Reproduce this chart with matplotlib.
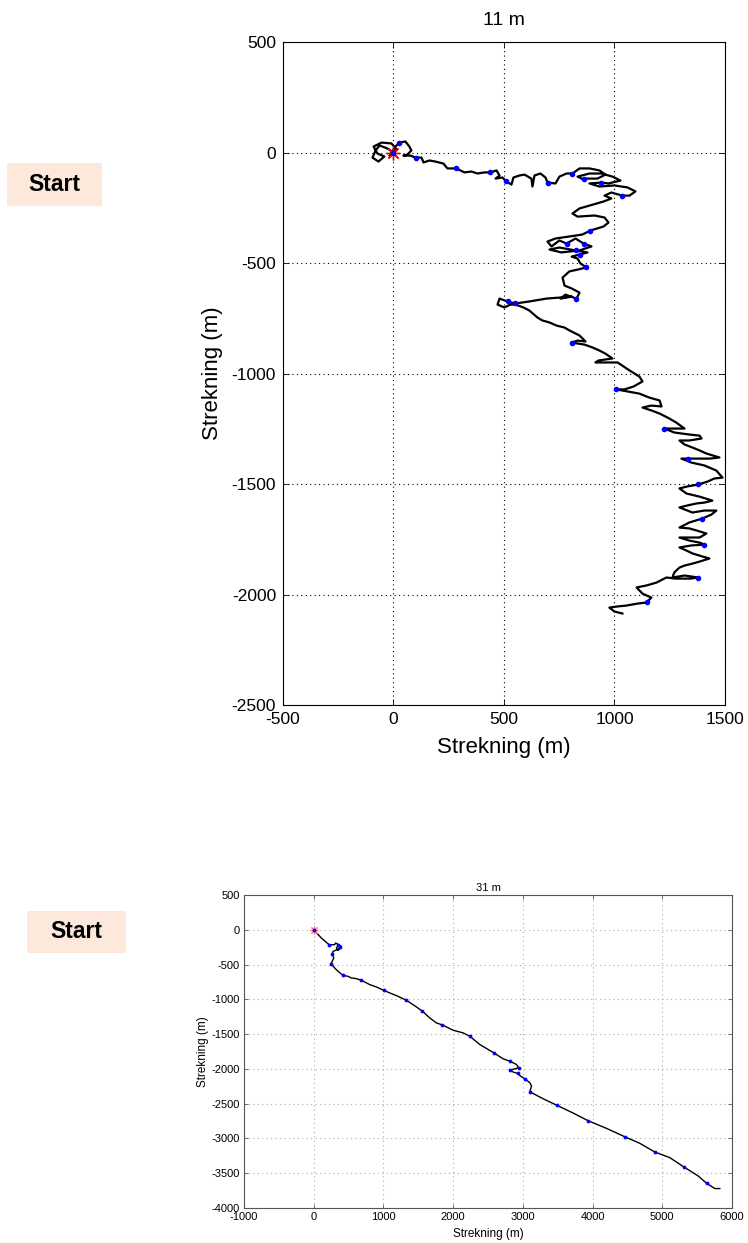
#!/usr/bin/env python3
''' Two walking tracks (11 m and 31 m), MATLAB-style plots with Start tags
'''

import matplotlib
matplotlib.use('Agg')
from matplotlib import pyplot
from matplotlib.patches import Rectangle

#
# data (metres)
#

top_x = [0, -27, -63, -81, -95, -68, -41, -72, -90, -54, -9, 14, -18, 9, 27,
         54, 72, 81, 63, 45, 77, 100, 127, 136, 163, 190, 226, 244, 285, 321,
         353, 380, 412, 439, 466, 480, 462, 493, 511, 534, 543, 570, 593, 624,
         629, 638, 665, 688, 697, 733, 751, 783, 810, 842, 887, 932, 959, 923,
         878, 860, 833, 887, 941, 991, 1027, 973, 941, 887, 932, 1000, 1059,
         1095, 1068, 1036, 986, 955, 986, 950, 887, 842, 810, 833, 910, 955,
         973, 950, 891, 855, 796, 733, 697, 715, 751, 783, 824, 860, 896, 842,
         760, 706, 751, 824, 878, 842, 806, 833, 846, 873, 837, 796, 765, 774,
         806, 842, 828, 778, 756, 806, 692, 615, 552, 516, 480, 471, 502, 529,
         552, 588, 615, 652, 674, 706, 738, 774, 796, 842, 869, 833, 806, 864,
         900, 932, 959, 991, 928, 914, 973, 1014, 1041, 1068, 1113, 1127, 1086,
         1045, 1009, 1059, 1113, 1158, 1204, 1213, 1167, 1127, 1167, 1204,
         1249, 1280, 1317, 1271, 1226, 1271, 1339, 1385, 1394, 1339, 1294,
         1317, 1353, 1385, 1416, 1475, 1430, 1385, 1335, 1303, 1348, 1407,
         1461, 1489, 1452, 1421, 1380, 1330, 1294, 1326, 1385, 1443, 1407,
         1371, 1330, 1294, 1353, 1407, 1461, 1439, 1398, 1339, 1294, 1339,
         1371, 1416, 1385, 1339, 1294, 1339, 1385, 1407, 1348, 1294, 1326,
         1353, 1398, 1430, 1385, 1353, 1317, 1294, 1271, 1262, 1317, 1380,
         1344, 1276, 1235, 1190, 1145, 1100, 1127, 1167, 1145, 1104, 1054,
         1014, 977, 1000, 1036]
top_y = [0, 18, 32, 9, -23, -41, -18, -5, 27, 45, 41, 14, -14, 27, 45,
         50, 27, 9, -9, -14, -14, -23, -23, -45, -36, -41, -50, -72, -72, -90,
         -86, -95, -90, -90, -81, -104, -118, -113, -131, -145, -113, -104,
         -100, -118, -154, -104, -95, -113, -136, -140, -109, -95, -95, -72,
         -72, -81, -100, -118, -118, -122, -109, -95, -95, -109, -127, -140,
         -136, -140, -154, -149, -158, -176, -195, -195, -181, -195, -208,
         -222, -240, -253, -276, -290, -285, -294, -317, -335, -353, -371,
         -380, -389, -403, -425, -398, -412, -389, -412, -425, -443, -452,
         -439, -430, -443, -452, -462, -471, -480, -502, -520, -529, -538,
         -566, -602, -615, -634, -661, -643, -661, -652, -661, -674, -683,
         -674, -661, -688, -701, -688, -688, -701, -715, -747, -760, -769,
         -783, -792, -805, -828, -855, -851, -860, -869, -882, -896, -910,
         -932, -941, -950, -950, -950, -968, -986, -1014, -1036, -1059, -1072,
         -1072, -1081, -1091, -1109, -1122, -1149, -1145, -1154, -1167, -1181,
         -1204, -1222, -1249, -1249, -1249, -1267, -1276, -1281, -1294, -1303,
         -1303, -1321, -1335, -1348, -1362, -1380, -1385, -1385, -1385, -1385,
         -1403, -1416, -1439, -1471, -1475, -1489, -1502, -1511, -1520, -1543,
         -1557, -1575, -1584, -1588, -1597, -1606, -1629, -1620, -1620, -1638,
         -1656, -1674, -1697, -1701, -1710, -1724, -1742, -1742, -1742, -1756,
         -1765, -1774, -1778, -1787, -1801, -1814, -1828, -1837, -1851, -1860,
         -1869, -1878, -1900, -1923, -1914, -1923, -1928, -1928, -1923, -1946,
         -1959, -1968, -1996, -2014, -2036, -2041, -2050, -2054, -2059, -2077,
         -2086]

top_mark_x = [0, 27, 100, 285, 439, 511, 697, 810, 860, 941, 1036, 891, 783,
              860, 824, 842, 873, 828, 552, 516, 806, 1009, 1226, 1335, 1380,
              1398, 1407, 1380, 1145]
top_mark_y = [0, 45, -23, -72, -90, -131, -136, -95, -122, -136, -195, -353,
              -412, -412, -443, -462, -520, -661, -683, -674, -860, -1072,
              -1249, -1385, -1502, -1656, -1774, -1923, -2036]

bot_x = [0, 110, 220, 300, 315, 397, 350, 325, 360, 380, 277, 268, 287, 249,
         301, 349, 421, 493, 541, 612, 684, 804, 899, 1005, 1091, 1186, 1330,
         1474, 1560, 1665, 1760, 1846, 2000, 2143, 2239, 2382, 2583, 2717,
         2813, 2908, 2942, 2813, 2870, 2932, 2960, 3028, 3100, 3124, 3100,
         3291, 3492, 3712, 3937, 4200, 4459, 4678, 4893, 5109, 5310, 5515,
         5635, 5754, 5826]
bot_y = [0, -120, -215, -215, -190, -240, -297, -263, -220, -270, -311, -344,
         -407, -488, -550, -598, -656, -670, -694, -703, -727, -789, -823,
         -871, -909, -947, -1014, -1110, -1172, -1268, -1340, -1369, -1445,
         -1483, -1531, -1650, -1770, -1856, -1890, -1937, -1985, -2019, -2050,
         -2066, -2100, -2143, -2200, -2248, -2330, -2430, -2526, -2631, -2746,
         -2856, -2975, -3071, -3196, -3277, -3411, -3540, -3645, -3721, -3721]

bot_mark_x = [0, 220, 345, 380, 268, 249, 421, 684, 1005, 1330, 1560, 1846,
              2239, 2583, 2813, 2942, 2813, 2932, 3028, 3100, 3492, 3937, 4459,
              4893, 5310, 5635]
bot_mark_y = [0, -215, -215, -250, -344, -488, -656, -727, -871, -1014, -1172,
              -1369, -1531, -1770, -1890, -1985, -2019, -2066, -2143, -2330,
              -2526, -2746, -2975, -3196, -3411, -3645]

titles = ['11 m', '31 m']
xlabel = 'Strekning (m)'
ylabel = 'Strekning (m)'

#
# style helpers
#

pyplot.rcParams['font.family'] = ['Liberation Sans', 'DejaVu Sans']
pyplot.rcParams['axes.unicode_minus'] = False

def style_axes(ax, size, spine_color, grid_color, pad):
    ax.tick_params(direction='in', top=True, right=True, labelsize=size,
                   length=4, width=0.6, colors=spine_color,
                   labelcolor='black', pad=pad)
    for s in ax.spines.values():
        s.set_color(spine_color)
        s.set_linewidth(0.8)
    ax.grid(True, ls=(0, (1, 3)), color=grid_color, lw=0.8)
    ax.set_axisbelow(True)

def start_tag(fig, x0, y0, x1, y1):
    W, H = 748.0, 1243.0
    fig.patches.append(Rectangle((x0 / W, 1 - y1 / H), (x1 - x0) / W,
                                 (y1 - y0) / H, transform=fig.transFigure,
                                 facecolor='#fde9db', edgecolor='none'))
    fig.text((x0 + x1) / 2 / W, 1 - (y0 + y1) / 2 / H, 'Start',
             ha='center', va='center', fontsize=16.5, fontweight='bold')

#
# figure
#

fig = pyplot.figure(figsize=(7.48, 12.43), dpi=100)

# top panel, 11 m
ax = fig.add_axes([0.3783, 0.4328, 0.5909, 0.5334])
style_axes(ax, 12.5, 'black', 'black', 5)
ax.plot(top_x, top_y, color='black', lw=1.6, solid_joinstyle='round')
ax.plot([0], [0], ls='', marker=(8, 2, 0), ms=10, mew=1, color='red')
ax.plot(top_mark_x, top_mark_y, ls='', marker='.', ms=6, color='blue')
ax.set_xlim(-500, 1500)
ax.set_ylim(-2500, 500)
ax.set_xticks(range(-500, 1501, 500))
ax.set_yticks(range(-2500, 501, 500))
ax.set_title(titles[0], fontsize=14, pad=12)
ax.set_xlabel(xlabel, fontsize=16, labelpad=7)
ax.set_ylabel(ylabel, fontsize=16, labelpad=6)

# bottom panel, 31 m
ax2 = fig.add_axes([0.3262, 0.0282, 0.6524, 0.2518])
style_axes(ax2, 8, '#555555', '#aaaaaa', 3)
ax2.tick_params(length=3)
ax2.plot(bot_x, bot_y, color='black', lw=1.0)
ax2.plot([0], [0], ls='', marker=(8, 2, 0), ms=6, mew=0.8,
         color='#ff8080')
ax2.plot(bot_mark_x, bot_mark_y, ls='', marker='.', ms=3.5, color='blue')
ax2.set_xlim(-1000, 6000)
ax2.set_ylim(-4000, 500)
ax2.set_xticks(range(-1000, 6001, 1000))
ax2.set_yticks(range(-4000, 501, 500))
ax2.set_title(titles[1], fontsize=8, pad=3)
ax2.set_xlabel(xlabel, fontsize=8.5, labelpad=4)
ax2.set_ylabel(ylabel, fontsize=8.5, labelpad=2)

# "Start" tags on the left
start_tag(fig, 7, 163, 102, 206)
start_tag(fig, 27, 911, 126, 953)

fig.savefig('out.png', dpi=100)
